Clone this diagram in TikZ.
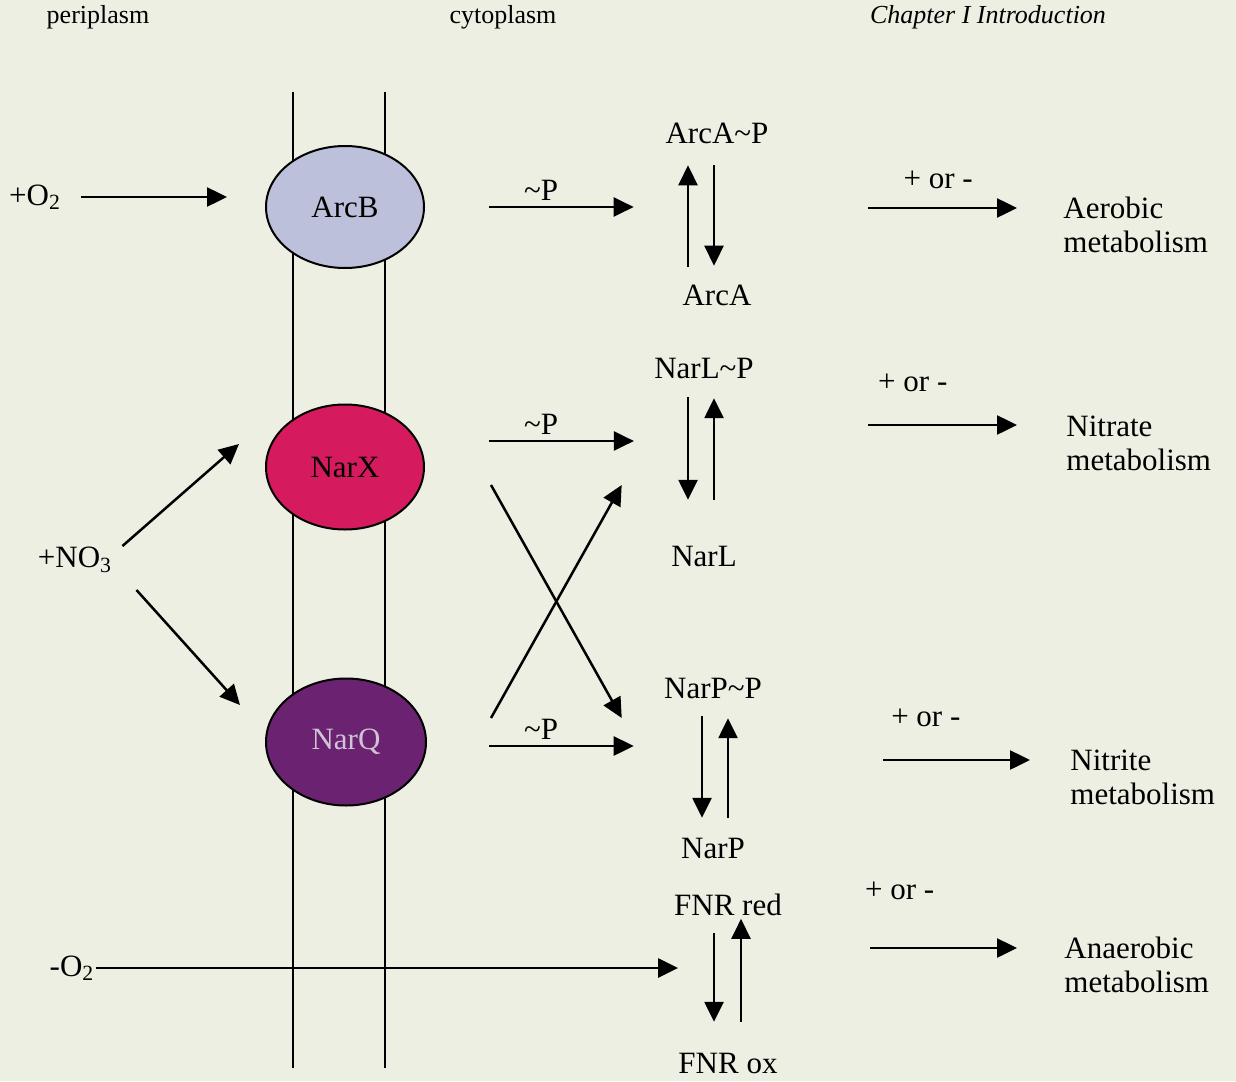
\documentclass[tikz,border=0pt]{standalone}
\usepackage{fontspec}
\setmainfont{Liberation Serif}
\usetikzlibrary{shapes.geometric,arrows.meta}

\definecolor{paper}{RGB}{237,239,227}
\definecolor{arcbfill}{RGB}{188,192,218}
\definecolor{narxfill}{RGB}{214,26,94}
\definecolor{narqfill}{RGB}{107,34,112}
\definecolor{narqtext}{RGB}{205,196,214}
\newcommand{\bigtxt}{\fontsize{15.5}{17}\selectfont}
\newcommand{\hdrtxt}{\fontsize{13}{15}\selectfont}

\begin{document}
\begin{tikzpicture}[x=0.5pt, y=-0.5pt,
    txt/.style={inner sep=0pt, font=\bigtxt},
    hdr/.style={inner sep=0pt, font=\hdrtxt},
    prot/.style={ellipse, draw, line width=1pt, inner sep=0pt, font=\bigtxt, minimum width=79pt, minimum height=61pt},
    arr/.style={-{Triangle[length=10pt,width=9.5pt]}, line width=1.25pt},
    phos/.style={inner sep=0pt, font=\bigtxt, above=2.5pt}]

    \fill[paper] (0,0) rectangle (1236,1081);

    % headings
    \node (peri) [hdr] at (98,17) {periplasm};
    \node (cyto) [hdr] at (503,17) {cytoplasm};
    \node (chap) [hdr, font=\hdrtxt\itshape] at (988,17) {Chapter I Introduction};

    % membrane
    \draw[line width=0.9pt] (293,92) -- (293,1068);
    \draw[line width=0.9pt] (385,92) -- (385,1068);

    % sensor kinases
    \node (arcb) [prot, fill=arcbfill] at (345,207) {ArcB};
    \node (narx) [prot, fill=narxfill, minimum height=62.5pt] at (345,467) {NarX};
    \node (narq) [prot, fill=narqfill, text=narqtext, minimum width=80pt, minimum height=63.5pt] at (346,742) {NarQ};

    % signals
    \node (o2in) [txt] at (35,197) {+O\textsubscript{2}};
    \node (no3in) [txt] at (75,560) {+NO\textsubscript{3}};
    \node (o2out) [txt] at (72,968) {-O\textsubscript{2}};

    % response regulators
    \node (arcap) [txt] at (717,133) {ArcA\textasciitilde P};
    \node (arca) [txt] at (717,295) {ArcA};
    \node (narlp) [txt] at (704,368) {NarL\textasciitilde P};
    \node (narl) [txt] at (704,556) {NarL};
    \node (narpp) [txt] at (713,688) {NarP\textasciitilde P};
    \node (narp) [txt] at (713,848) {NarP};
    \node (fnrred) [txt] at (728,905) {FNR red};
    \node (fnrox) [txt] at (728,1063) {FNR ox};

    % outputs
    \node (aerob) [txt, anchor=west, align=left] at (1063,225) {Aerobic\\metabolism};
    \node (nitrate) [txt, anchor=west, align=left] at (1066,443) {Nitrate\\metabolism};
    \node (nitrite) [txt, anchor=west, align=left] at (1070,777) {Nitrite\\metabolism};
    \node (anaerob) [txt, anchor=west, align=left] at (1064,965) {Anaerobic\\metabolism};

    % signal arrows
    \draw[arr, shorten <=10pt, shorten >=19pt] (o2in.east) -- (o2in.east -| arcb.west);
    \draw[arr] ([xshift=5pt,yshift=7pt]no3in.east) -- ([xshift=-13pt,yshift=11.5pt]narx.west);
    \draw[arr] ([xshift=12pt,yshift=-15pt]no3in.east) -- ([xshift=-12.5pt,yshift=18.5pt]narq.west);
    \draw[arr, shorten <=0.5pt] (o2out.east) -- (o2out.east -| fnrox.west);

    % phosphotransfer
    \draw[arr] ([xshift=32pt]arcb.east) -- ([xshift=-15.75pt,yshift=-37pt]arcap.west) node[phos, pos=0.36] {\textasciitilde P};
    \draw[arr] ([xshift=32pt,yshift=13pt]narx.east) -- ([xshift=-10pt,yshift=-36.5pt]narlp.west) node[phos, pos=0.36] {\textasciitilde P};
    \draw[arr] ([xshift=31pt,yshift=-2pt]narq.east) -- ([xshift=-15pt,yshift=-29pt]narpp.west) node[phos, pos=0.36] {\textasciitilde P};
    \draw[arr] ([xshift=33pt,yshift=-9pt]narx.east) -- ([xshift=-21pt,yshift=-15pt]narpp.west);
    \draw[arr] ([xshift=32pt,yshift=12pt]narq.east) -- ([xshift=-24.6pt,yshift=35.5pt]narl.west);

    % regulator cycles
    \draw[arr, shorten <=8.75pt, shorten >=10.75pt] ([xshift=-14.5pt]arca.north) -- ([xshift=-14.5pt]arcap.south);
    \draw[arr, shorten <=10.75pt, shorten >=9.25pt] ([xshift=-1.5pt]arcap.south) -- ([xshift=-1.5pt]arca.north);
    \draw[arr, shorten <=9.25pt, shorten >=22.75pt] ([xshift=-8pt]narlp.south) -- ([xshift=-8pt]narl.north);
    \draw[arr, shorten <=22.75pt, shorten >=9.75pt] ([xshift=5pt]narl.north) -- ([xshift=5pt]narlp.south);
    \draw[arr, shorten <=8.75pt, shorten >=9.75pt] ([xshift=-5.5pt]narpp.south) -- ([xshift=-5.5pt]narp.north);
    \draw[arr, shorten <=9.75pt, shorten >=9.75pt] ([xshift=7.5pt]narp.north) -- ([xshift=7.5pt]narpp.south);
    \draw[arr, shorten <=8.25pt, shorten >=15.25pt] ([xshift=-7pt]fnrred.south) -- ([xshift=-7pt]fnrox.north);
    \draw[arr, shorten <=15.25pt, shorten >=1.25pt] ([xshift=6.5pt]fnrox.north) -- ([xshift=6.5pt]fnrred.south);

    % regulation of metabolism
    \draw[arr] ([xshift=49.75pt,yshift=-37.5pt]arcap.east) -- ([xshift=-23pt,yshift=8.5pt]aerob.west) node[txt, pos=0.47, above=9pt] {+ or -};
    \draw[arr] ([xshift=57pt,yshift=-28.5pt]narlp.east) -- ([xshift=-24.5pt,yshift=9pt]nitrate.west) node[txt, pos=0.3, above=16pt] {+ or -};
    \draw[arr] ([xshift=60.5pt,yshift=-36pt]narpp.east) -- ([xshift=-20pt,yshift=8.5pt]nitrite.west) node[txt, pos=0.29, above=16pt] {+ or -};
    \draw[arr] ([xshift=44pt,yshift=-21.5pt]fnrred.east) -- ([xshift=-23.5pt,yshift=8.5pt]anaerob.west) node[txt, pos=0.2, above=23.5pt] {+ or -};

\end{tikzpicture}
\end{document}
